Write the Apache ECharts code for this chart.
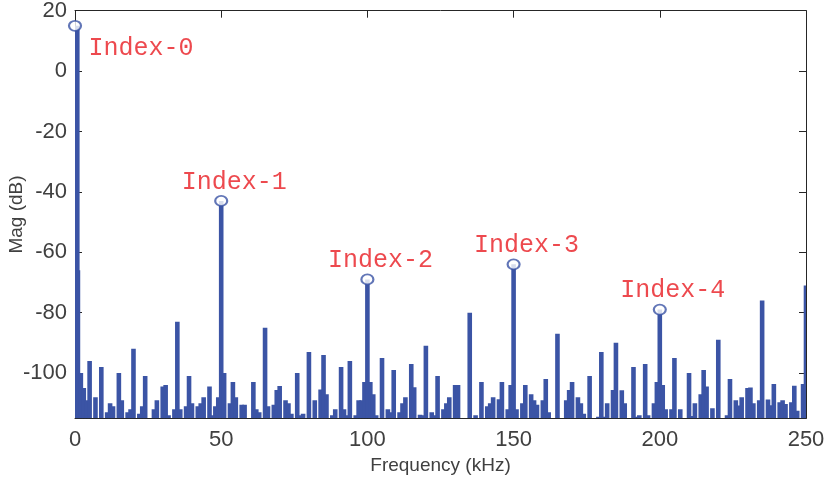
<!DOCTYPE html>
<html>
<head>
<meta charset="utf-8">
<script src="https://cdn.jsdelivr.net/npm/echarts@6/dist/echarts.min.js"></script>
<style>
  html, body { margin: 0; padding: 0; background: #fff; }
  #chart { width: 826px; height: 481px; }
</style>
</head>
<body>
<div id="chart"></div>
<script>
// spectrum bins (kHz, dB); bins not listed sit below the floor
var freqKHz = [
  0, 1, 2, 3, 4, 5, 7, 9, 11, 12, 13, 15, 16, 18, 19, 20, 22, 23, 24, 27,
  28, 30, 31, 32, 34, 35, 36, 38, 39, 40, 42, 43, 44, 46, 47, 48, 49, 50, 51, 53,
  54, 55, 57, 58, 61, 62, 63, 65, 66, 68, 69, 70, 72, 73, 74, 76, 77, 78, 80, 82,
  84, 85, 86, 88, 89, 91, 92, 93, 94, 96, 97, 98, 99, 100, 101, 102, 103, 105, 107, 108,
  109, 111, 112, 113, 115, 116, 118, 119, 120, 122, 123, 124, 126, 127, 128, 130, 131, 135, 137, 139,
  141, 142, 143, 145, 146, 148, 149, 150, 151, 153, 154, 156, 157, 158, 160, 161, 162, 165, 168, 169,
  170, 172, 173, 174, 176, 179, 180, 181, 182, 184, 185, 187, 188, 191, 192, 193, 195, 196, 198, 199,
  200, 201, 202, 204, 205, 207, 210, 211, 212, 214, 215, 216, 218, 220, 223, 224, 226, 227, 228, 230,
  231, 232, 234, 235, 237, 238, 239, 241, 242, 243, 245, 246, 247, 249, 250
];
var magDB = [
  15, -66, -100, -105, -109, -96, -108, -98, -113, -110, -111, -100, -109, -113, -112, -92, -113.5, -111, -101, -112,
  -109, -104.5, -104, -114, -112, -83, -112, -111, -101, -110, -111, -110, -108, -104.5, -114, -111, -108, -43, -100, -110,
  -103, -108, -110.5, -110.5, -103, -112, -113, -85, -111, -110.5, -105.6, -104.3, -109, -110, -113.5, -100, -114, -113.5, -93, -109,
  -105.5, -94, -107, -114, -112, -98, -112, -114, -96, -114, -109, -109, -103, -69, -103, -107, -114, -95, -112, -113,
  -99, -113, -110, -108, -97, -104.7, -113.8, -114, -91, -113, -114, -101, -112, -110, -108, -104, -104, -80, -114, -103,
  -111, -110, -108, -108.7, -103, -112, -104, -64, -112, -110, -104, -107, -109, -110.5, -109, -102, -113, -87, -109, -105.6,
  -103, -108, -110, -113.5, -101, -114.5, -93, -114.5, -110, -105.6, -90, -105.7, -110, -98, -114.5, -114, -97, -114, -110, -103,
  -79, -104, -112, -112, -95, -112, -100, -114.2, -110, -107, -99, -104.5, -111.7, -89, -114, -102, -109, -110.8, -108, -105,
  -104.8, -110, -109, -76, -108.8, -110.7, -103.6, -109.7, -109, -110.3, -109.7, -104.2, -112.5, -103.6, -71
];

// marked peaks
var peakFreq = [0, 50, 100, 150, 200];
var peakMag = [15, -43, -69, -64, -79];
var peakNames = ['Index-0', 'Index-1', 'Index-2', 'Index-3', 'Index-4'];

var xTicks = [0, 50, 100, 150, 200, 250];
var yTicks = [-100, -80, -60, -40, -20, 0, 20];
var yMin = -115, yMax = 20;

var blue = '#3b54a5';
var axisColor = '#262626';
var tickFont = { fontFamily: 'Liberation Sans, Arial, Helvetica, sans-serif', fontSize: 22, color: '#404040' };

var barData = [];
for (var i = 0; i < freqKHz.length; i++) barData.push([freqKHz[i], magDB[i]]);

var peakData = [];
for (var j = 0; j < peakFreq.length; j++) {
  var lbl = { show: true, formatter: peakNames[j], position: 'inside', offset: [13, -19] };
  if (j === 0) lbl.offset = [66, 23];
  peakData.push({ value: [peakFreq[j], peakMag[j]], label: lbl });
}

function renderBar(params, api) {
  var top = api.coord([api.value(0), api.value(1)]);
  var base = api.coord([api.value(0), yMin]);
  var w = 4.6;
  var x = top[0] - w / 2;
  // the 0 kHz line sits on the axis; keep its full width visible like the original
  if (api.value(0) === 0) x = top[0];
  return {
    type: 'rect',
    shape: { x: x, y: top[1], width: w, height: base[1] - top[1] },
    style: { fill: blue }
  };
}

function boxAxisLine() {
  return { show: true, onZero: false, lineStyle: { color: axisColor, width: 1 } };
}

var chart = echarts.init(document.getElementById('chart'), null, { renderer: 'canvas' });
chart.setOption({
  animation: false,
  backgroundColor: '#fff',
  grid: { left: 75, right: 20, top: 10.7, bottom: 62.7, containLabel: false, outerBoundsMode: 'none' },
  xAxis: [{
    type: 'value', min: 0, max: 250, interval: 50,
    name: 'Frequency (kHz)', nameLocation: 'middle', nameGap: 37,
    nameTextStyle: { fontFamily: tickFont.fontFamily, fontSize: 19, color: '#404040' },
    axisLine: boxAxisLine(),
    axisTick: { show: true, inside: true, length: 7, lineStyle: { color: axisColor } },
    axisLabel: Object.assign({ margin: 11, customValues: xTicks }, tickFont),
    splitLine: { show: false }
  }, {
    type: 'value', min: 0, max: 250, interval: 50, position: 'top',
    axisLine: boxAxisLine(),
    axisTick: { show: true, inside: true, length: 7, lineStyle: { color: axisColor } },
    axisLabel: { show: false },
    splitLine: { show: false }
  }],
  yAxis: [{
    type: 'value', min: yMin, max: yMax,
    name: 'Mag (dB)', nameLocation: 'middle', nameGap: 49, nameMoveOverlap: false,
    nameTextStyle: { fontFamily: tickFont.fontFamily, fontSize: 19, color: '#404040' },
    axisLine: boxAxisLine(),
    axisTick: { show: true, inside: true, length: 7, customValues: yTicks, lineStyle: { color: axisColor } },
    axisLabel: Object.assign({ margin: 8, customValues: yTicks }, tickFont),
    splitLine: { show: false }
  }, {
    type: 'value', min: yMin, max: yMax, position: 'right',
    axisLine: boxAxisLine(),
    axisTick: { show: true, inside: true, length: 7, customValues: yTicks, lineStyle: { color: axisColor } },
    axisLabel: { show: false },
    splitLine: { show: false }
  }],
  series: [{
    type: 'custom',
    renderItem: renderBar,
    data: barData,
    encode: { x: 0, y: 1 },
    clip: true,
    z: 2
  }, {
    type: 'scatter',
    data: peakData,
    symbol: 'emptyCircle',
    symbolSize: [12, 10],
    itemStyle: { color: blue, borderColor: blue, borderWidth: 2.2 },
    label: {
      color: '#e81c22',
      fontFamily: 'Courier New, Liberation Mono, monospace',
      fontSize: 25
    },
    z: 3
  }]
});
</script>
</body>
</html>
